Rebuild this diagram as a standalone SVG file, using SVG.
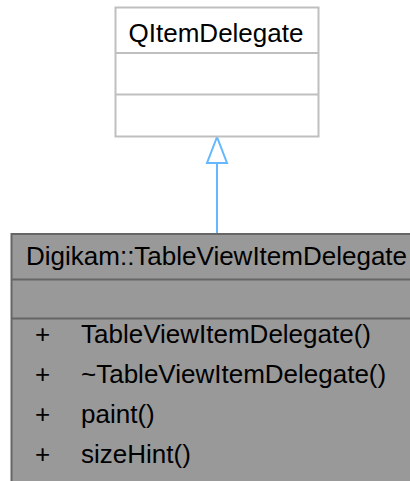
<svg xmlns="http://www.w3.org/2000/svg" width="410" height="481" viewBox="0 0 410 481">
<style>
text { font-family: "Liberation Sans", Arial, sans-serif; font-size: 26px; fill: #000; }
.base { fill: #ffffff; stroke: #bfbfbf; stroke-width: 2; }
.main { fill: #999999; stroke: #666666; stroke-width: 2; }
.sepb { stroke: #bfbfbf; stroke-width: 2; }
.sepm { stroke: #666666; stroke-width: 2; }
.edge { stroke: #63b8ff; stroke-width: 2; fill: none; }
.head { stroke: #63b8ff; stroke-width: 2; fill: #ffffff; }
</style>
<g id="connectors">
<line class="edge" x1="217" y1="163" x2="217" y2="233"/>
<polygon class="head" points="217,137 207,163 227,163"/>
</g>
<g id="node-QItemDelegate">
<rect class="base" x="115.5" y="7.5" width="203" height="129"/>
<line class="sepb" x1="115.5" y1="53" x2="318.5" y2="53"/>
<line class="sepb" x1="115.5" y1="94.5" x2="318.5" y2="94.5"/>
<text x="216" y="41.5" text-anchor="middle">QItemDelegate</text>
</g>
<g id="node-TableViewItemDelegate">
<rect class="main" x="11.5" y="234" width="410" height="260"/>
<line class="sepm" x1="11.5" y1="279.5" x2="411" y2="279.5"/>
<line class="sepm" x1="11.5" y1="318.5" x2="411" y2="318.5"/>
<text x="26" y="265">Digikam::TableViewItemDelegate</text>
<text x="42.5" y="343" text-anchor="middle">+</text>
<text x="81" y="343">TableViewItemDelegate()</text>
<text x="42.5" y="383" text-anchor="middle">+</text>
<text x="81" y="383">~TableViewItemDelegate()</text>
<text x="42.5" y="423" text-anchor="middle">+</text>
<text x="81" y="423">paint()</text>
<text x="42.5" y="463" text-anchor="middle">+</text>
<text x="81" y="463">sizeHint()</text>
</g>
</svg>
